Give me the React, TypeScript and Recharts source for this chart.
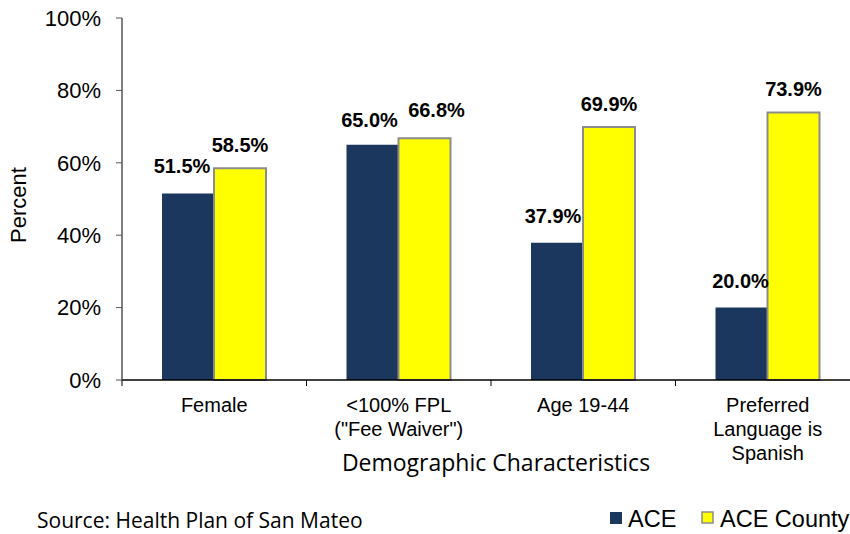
import { BarChart, Bar, XAxis, YAxis, LabelList } from 'recharts';

const categories = ['Female', '<100% FPL', 'Age 19-44', 'Preferred Language'];
const categoryLines = [
  ['Female'],
  ['<100% FPL', '("Fee Waiver")'],
  ['Age 19-44'],
  ['Preferred', 'Language is', 'Spanish'],
];
const aceValues = [51.5, 65.0, 37.9, 20.0];
const countyValues = [58.5, 66.8, 69.9, 73.9];
const yTicks = [0, 20, 40, 60, 80, 100];

const data = categories.map((name, i) => ({
  name,
  ace: aceValues[i],
  county: countyValues[i],
}));

const CHART_W = 870;
const CHART_H = 534;
const MARGIN = { top: 18, right: 10, bottom: 0, left: 0 };
const Y_AXIS_W = 122;
const X_AXIS_H = 154;
const STEP = (CHART_W - MARGIN.left - MARGIN.right - Y_AXIS_W) / categories.length;

const NAVY = '#1B375D';
const YELLOW = '#FFFF00';
const ARIAL = 'Arial, "Liberation Sans", sans-serif';
const CALIBRI = '"Open Sans", sans-serif';

// label nudges so neighbouring labels don't collide (like the original)
const aceNudge = [-6, -3, -4, -1];
const countyNudge = [0, 12, 0, 0];
const countyLift = [16, 21, 16, 16];

function CategoryTick(props: any) {
  const { x, y, payload } = props;
  const lines = categoryLines[payload.index] || [];
  const left = x - STEP / 2;
  return (
    <g>
      <line x1={left} y1={y} x2={left} y2={y + 6} stroke="#000" strokeWidth={1} />
      <text x={x} y={y} textAnchor="middle" fontSize={20} fontFamily={ARIAL} fill="#000">
        {lines.map((l: string, i: number) => (
          <tspan key={i} x={x} y={y + 32 + i * 24}>
            {l}
          </tspan>
        ))}
      </text>
    </g>
  );
}

function makeLabel(nudge: number[], lift: number[]) {
  return (props: any) => {
    const { x, y, width, value, index } = props;
    return (
      <text
        x={x + width / 2 + nudge[index]}
        y={y - lift[index]}
        textAnchor="middle"
        fontSize={20}
        fontWeight="bold"
        fontFamily={ARIAL}
        fill="#000"
      >
        {Number(value).toFixed(1)}%
      </text>
    );
  };
}

export default function App() {
  return (
    <div
      style={{
        position: 'relative',
        width: 850,
        height: 534,
        overflow: 'hidden',
        background: '#fff',
      }}
    >
      <style>{'body{margin:0}'}</style>
      <BarChart
        width={CHART_W}
        height={CHART_H}
        data={data}
        margin={MARGIN}
        barCategoryGap={40}
        barGap={0}
      >
        <XAxis
          dataKey="name"
          height={X_AXIS_H}
          interval={0}
          tickLine={false}
          tickSize={0}
          tickMargin={0}
          tick={<CategoryTick />}
          axisLine={{ stroke: '#000', strokeWidth: 1.5 }}
        />
        <YAxis
          width={Y_AXIS_W}
          domain={[0, 100]}
          ticks={yTicks}
          tickFormatter={(v: number) => `${v}%`}
          tickSize={6}
          tickMargin={15}
          tick={{ fontSize: 22, fontFamily: ARIAL, fill: '#000' }}
          tickLine={{ stroke: '#555' }}
          axisLine={{ stroke: '#555', strokeWidth: 1.5 }}
        />
        <Bar dataKey="ace" fill={NAVY} isAnimationActive={false}>
          <LabelList dataKey="ace" content={makeLabel(aceNudge, [21, 18, 20, 20])} />
        </Bar>
        <Bar dataKey="county" fill={YELLOW} stroke="#8C8C8C" strokeWidth={2} isAnimationActive={false}>
          <LabelList dataKey="county" content={makeLabel(countyNudge, countyLift)} />
        </Bar>
      </BarChart>
      <svg
        width={850}
        height={534}
        style={{ position: 'absolute', left: 0, top: 0, pointerEvents: 'none' }}
      >
        <text
          transform="translate(26 205) rotate(-90)"
          textAnchor="middle"
          fontSize={22}
          fontFamily={ARIAL}
          fill="#000"
        >
          Percent
        </text>
        <text x={496} y={471} textAnchor="middle" fontSize={23} fontFamily={CALIBRI} fill="#000">
          Demographic Characteristics
        </text>
        <text x={37} y={528} fontSize={21} fontFamily={CALIBRI} fill="#000">
          Source: Health Plan of San Mateo
        </text>
        <rect x={610} y={512} width={12} height={12} fill={NAVY} />
        <text x={628} y={527} fontSize={23.5} fontFamily={ARIAL} fill="#000">
          ACE
        </text>
        <rect x={702} y={512} width={11} height={11} fill={YELLOW} stroke="#8C8C8C" strokeWidth={1.5} />
        <text x={720} y={527} fontSize={23.5} fontFamily={ARIAL} fill="#000">
          ACE County
        </text>
      </svg>
    </div>
  );
}
